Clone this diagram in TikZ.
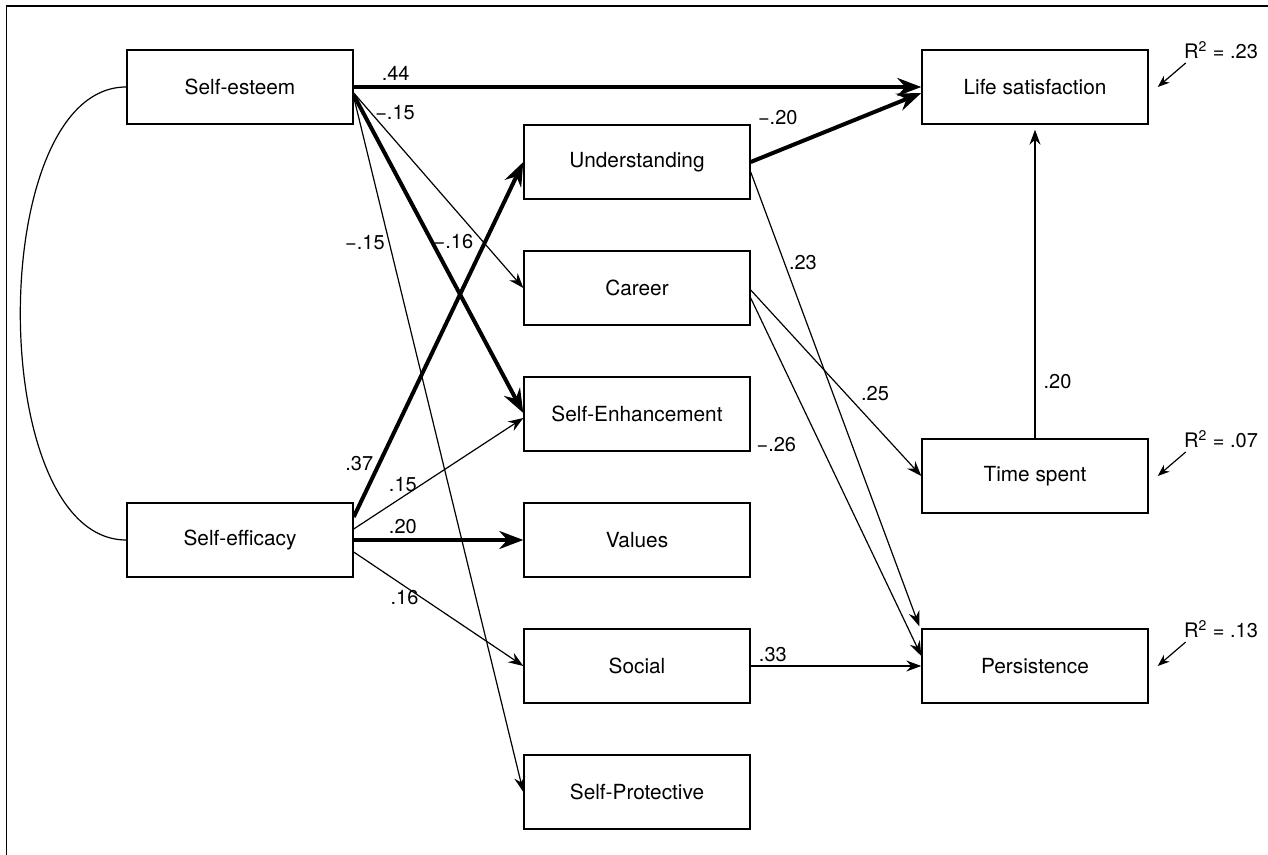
\documentclass[tikz,border=0pt]{standalone}
\usepackage{fontspec}
\setmainfont{TeX Gyre Heros}
\usetikzlibrary{arrows.meta, positioning}

\begin{document}
\begin{tikzpicture}[x=1pt,y=1pt,node distance=63pt,on grid,
    var/.style={draw,line width=0.7pt,minimum width=113pt,minimum height=37pt,inner sep=0pt,font=\fontsize{10.4}{12}\selectfont},
    weak/.style={line width=0.6pt,-{Stealth[length=7.5pt,width=5.5pt,inset=2.5pt]}},
    strong/.style={line width=2pt,-{Stealth[length=12pt,width=9pt,inset=4pt]}},
    small/.style={line width=0.6pt,-{Stealth[length=6pt,width=4.5pt,inset=2pt]}},
    coef/.style={font=\fontsize{10}{11}\selectfont,inner sep=2pt},
    rsq/.style={font=\fontsize{10}{11}\selectfont,inner sep=0pt,anchor=south west}]

    \useasboundingbox (-120,43.5) rectangle (514,-384);
    \draw[line width=0.8pt] (514,40.5) -- (-116.75,40.5) -- (-116.75,-384);

    % predictors
    \node[var] (se) {Self-esteem};
    \node[var] (und) [below right=37.5pt and 198.5pt of se] {Understanding};
    \node[var] (car) [below=of und] {Career};
    \node[var] (enh) [below=of car] {Self-Enhancement};
    \node[var] (val) [below=of enh] {Values};
    \node[var] (soc) [below=of val] {Social};
    \node[var] (spr) [below=of soc] {Self-Protective};
    \node[var] (sef) [left=198.5pt of val] {Self-efficacy};

    % outcomes
    \node[var] (ls) [right=397.5pt of se] {Life satisfaction};
    \node[var] (ts) [below=194.5pt of ls] {Time spent};
    \node[var] (per) [right=199pt of soc] {Persistence};

    \node[rsq] (rls) at ([shift={(17.5pt,14pt)}]ls.east) {R\textsuperscript{2} = .23};
    \node[rsq] (rts) at ([shift={(17.5pt,14pt)}]ts.east) {R\textsuperscript{2} = .07};
    \node[rsq] (rper) at ([shift={(17.5pt,14pt)}]per.east) {R\textsuperscript{2} = .13};

    \draw[line width=0.6pt] (se.west) to[out=180,in=180,looseness=0.8] (sef.west);

    \draw[strong] (se.east) -- node[coef,pos=0.074,above] {.44} (ls.west);
    \draw[weak] ([yshift=-3pt]se.east) -- node[coef,pos=0.1,right] {−.15} (car.west);
    \draw[strong] ([yshift=-4pt]se.east) -- node[coef,pos=0.46,right=-2pt] {−.16} ([yshift=0.5pt]enh.west);
    \draw[weak] ([yshift=-5pt]se.east) -- node[coef,pos=0.21,left] {−.15} (spr.west);

    \draw[strong] ([yshift=11.5pt]sef.east) -- node[coef,pos=0.15,left] {.37} (und.west);
    \draw[weak] ([yshift=5.5pt]sef.east) -- node[coef,pos=0.29,above] {.15} ([yshift=-2pt]enh.west);
    \draw[strong] (sef.east) -- node[coef,pos=0.29,above] {.20} (val.west);
    \draw[weak] ([yshift=-6pt]sef.east) -- node[coef,pos=0.3,below] {.16} (soc.west);

    \draw[strong] (und.east) -- node[coef,pos=0.1,above=12pt,xshift=5pt] {−.20} ([yshift=-3pt]ls.west);
    \draw[weak] ([yshift=-5pt]und.east) -- node[coef,pos=0.2,right] {.23} ([xshift=-1pt,yshift=1pt]per.north west);
    \draw[weak] ([yshift=-1pt]car.east) -- node[coef,pos=0.62,above right] {.25} (ts.west);
    \draw[weak] ([yshift=-5pt]car.east) -- node[coef,pos=0.41,left=10pt] {−.26} ([yshift=5pt]per.west);
    \draw[weak] (soc.east) -- node[coef,pos=0.13,above] {.33} (per.west);
    \draw[weak,shorten >=2.5pt] (ts.north) -- node[coef,pos=0.18,right=2pt] {.20} (ls.south);

    \draw[small] ([shift={(1pt,-2pt)}]rls.south west) -- ([xshift=4.5pt]ls.east);
    \draw[small] ([shift={(1pt,-2pt)}]rts.south west) -- ([xshift=4.5pt]ts.east);
    \draw[small] ([shift={(1pt,-2pt)}]rper.south west) -- ([xshift=4.5pt]per.east);
\end{tikzpicture}
\end{document}
